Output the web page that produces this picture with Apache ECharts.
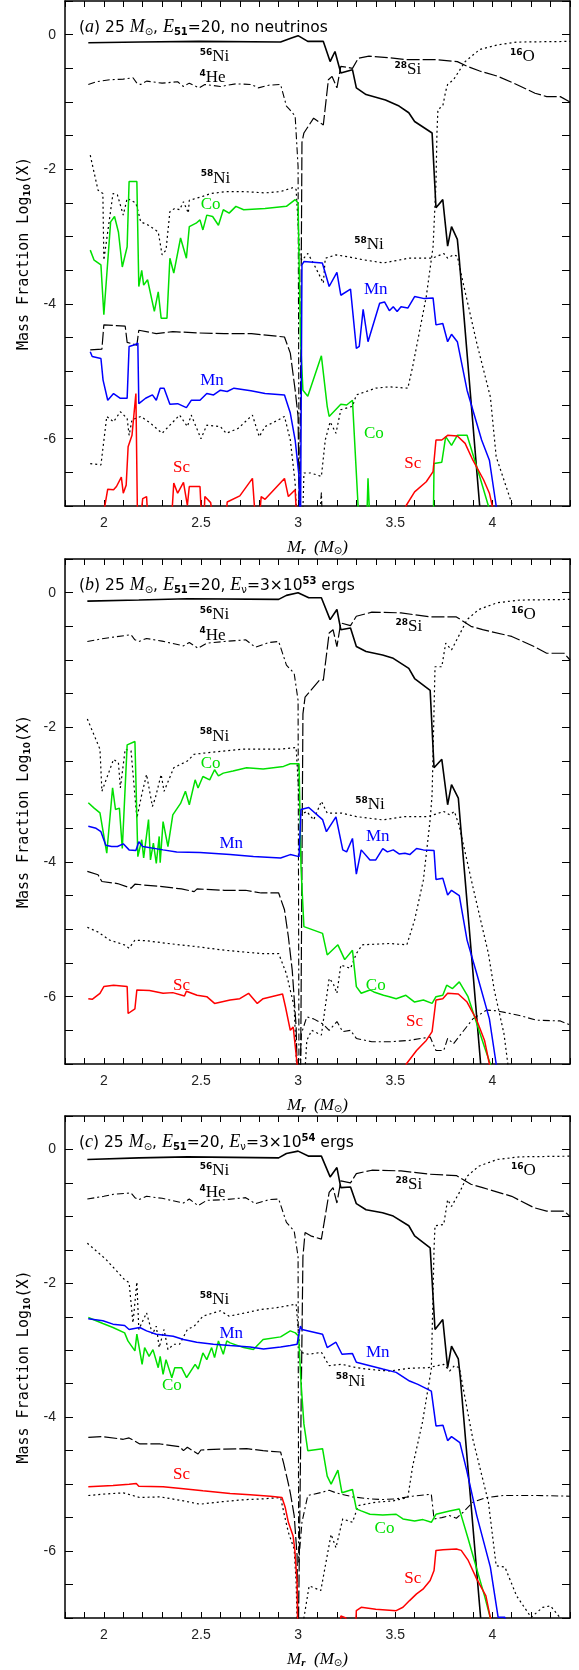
<!DOCTYPE html>
<html>
<head>
<meta charset="utf-8">
<script src="https://cdn.jsdelivr.net/npm/echarts@6/dist/echarts.min.js"></script>
<style>
  html, body { margin: 0; padding: 0; background: #fff; }
  .echarts { width: 579px; height: 1670px; }
</style>
</head>
<body>
<div class="echarts"></div>
<script>
// ---- panel (a): no neutrinos ----
const a56Ni = [[1.92,-0.12],[2.19,-0.11],[2.49,-0.10],[2.91,-0.11],[2.966,-0.05],[3.0,-0.015],[3.05,-0.10],[3.13,-0.10],[3.165,-0.40],[3.19,-0.25],[3.22,-0.57],[3.28,-0.52],[3.30,-0.79],[3.35,-0.89],[3.45,-0.97],[3.52,-1.06],[3.57,-1.16],[3.60,-1.29],[3.69,-1.46],[3.71,-2.57],[3.745,-2.45],[3.77,-3.14],[3.79,-2.85],[3.82,-3.04],[3.83,-3.34],[3.935,-7.0]];
const a4He = [[1.92,-0.74],[1.96,-0.70],[2.03,-0.67],[2.10,-0.66],[2.15,-0.64],[2.17,-0.72],[2.19,-0.74],[2.22,-0.69],[2.30,-0.72],[2.38,-0.70],[2.41,-0.77],[2.44,-0.72],[2.49,-0.79],[2.52,-0.74],[2.60,-0.77],[2.68,-0.73],[2.76,-0.74],[2.795,-0.79],[2.85,-0.75],[2.91,-0.74],[2.94,-1.06],[2.956,-1.11],[2.985,-1.21],[3.0,-1.96],[3.006,-7.6],[3.10,-7.6],[3.12,-6.8],[3.13,-7.6]];
const a28Si = [[1.93,-4.68],[1.99,-4.67],[2.0,-4.31],[2.11,-4.33],[2.12,-4.57],[2.17,-4.61],[2.18,-4.39],[2.27,-4.44],[2.355,-4.41],[2.48,-4.43],[2.62,-4.44],[2.76,-4.44],[2.93,-4.49],[2.96,-4.73],[2.985,-5.28],[3.0,-5.67],[3.008,-7.6],[3.014,-7.6],[3.02,-1.6],[3.03,-1.46],[3.08,-1.24],[3.13,-1.34],[3.156,-0.67],[3.175,-0.62],[3.20,-0.79],[3.22,-0.47],[3.28,-0.50],[3.31,-0.35],[3.365,-0.32],[3.46,-0.34],[3.555,-0.37],[3.71,-0.37],[3.82,-0.40],[3.87,-0.47],[3.935,-0.54],[4.03,-0.62],[4.125,-0.74],[4.22,-0.87],[4.28,-0.92],[4.35,-0.92],[4.40,-1.0]];
const a16O = [[1.93,-6.37],[1.985,-6.39],[2.015,-5.67],[2.05,-5.75],[2.085,-5.60],[2.12,-5.70],[2.13,-5.95],[2.145,-5.72],[2.19,-5.67],[2.24,-5.77],[2.30,-5.92],[2.34,-5.80],[2.39,-5.65],[2.43,-5.82],[2.45,-5.65],[2.50,-6.0],[2.53,-5.80],[2.60,-5.82],[2.63,-5.92],[2.69,-5.85],[2.765,-5.65],[2.80,-5.97],[2.83,-5.82],[2.90,-5.72],[2.93,-5.67],[2.96,-6.02],[2.985,-6.66],[3.0,-7.6],[3.02,-7.6],[3.03,-6.51],[3.065,-6.51],[3.12,-6.56],[3.14,-6.02],[3.165,-5.75],[3.195,-5.92],[3.22,-5.57],[3.28,-5.52],[3.30,-5.35],[3.40,-5.25],[3.47,-5.23],[3.565,-5.25],[3.59,-4.93],[3.66,-3.89],[3.695,-3.15],[3.71,-2.21],[3.715,-1.46],[3.72,-1.11],[3.745,-1.06],[3.76,-0.84],[3.77,-0.74],[3.80,-0.67],[3.86,-0.40],[3.935,-0.22],[4.03,-0.15],[4.125,-0.11],[4.40,-0.10]];
const a58Ni = [[1.93,-1.79],[1.97,-2.31],[1.995,-2.36],[2.0,-3.35],[2.047,-2.36],[2.07,-2.38],[2.10,-2.68],[2.12,-2.43],[2.165,-2.50],[2.19,-2.78],[2.23,-2.83],[2.28,-2.93],[2.29,-3.10],[2.30,-3.27],[2.32,-3.20],[2.34,-2.63],[2.365,-2.58],[2.39,-2.60],[2.41,-2.48],[2.435,-2.65],[2.44,-2.46],[2.50,-2.41],[2.55,-2.36],[2.63,-2.33],[2.72,-2.33],[2.83,-2.35],[2.91,-2.33],[2.975,-2.27],[2.99,-2.30],[3.01,-3.30],[3.02,-3.35],[3.05,-3.25],[3.08,-3.40],[3.13,-3.69],[3.14,-3.32],[3.195,-3.27],[3.26,-3.30],[3.33,-3.34],[3.44,-3.39],[3.57,-3.32],[3.69,-3.32],[3.75,-3.25],[3.77,-3.32],[3.80,-3.27],[3.82,-3.29],[3.85,-3.69],[3.92,-4.58],[3.99,-5.38],[4.02,-6.27],[4.10,-6.96],[4.11,-7.6]];
const aCo = [[1.93,-3.20],[1.95,-3.35],[1.985,-3.42],[2.0,-4.16],[2.035,-2.78],[2.055,-2.70],[2.075,-2.93],[2.095,-3.45],[2.12,-3.15],[2.13,-2.18],[2.17,-2.18],[2.18,-3.74],[2.195,-3.50],[2.205,-3.72],[2.225,-3.64],[2.26,-4.11],[2.28,-3.82],[2.295,-4.21],[2.325,-4.21],[2.34,-3.32],[2.36,-3.54],[2.395,-3.02],[2.425,-3.32],[2.44,-2.85],[2.475,-2.80],[2.495,-2.75],[2.51,-2.90],[2.53,-2.68],[2.56,-2.70],[2.59,-2.83],[2.615,-2.60],[2.645,-2.65],[2.68,-2.55],[2.72,-2.60],[2.83,-2.58],[2.94,-2.55],[2.985,-2.45],[3.0,-2.50],[3.012,-4.49],[3.025,-5.28],[3.05,-5.37],[3.12,-4.77],[3.15,-5.52],[3.16,-5.67],[3.22,-5.49],[3.25,-5.50],[3.28,-5.43],[3.32,-7.6],[3.35,-7.6],[3.36,-6.59],[3.375,-7.6],[3.695,-7.6],[3.70,-6.37],[3.74,-6.35],[3.76,-5.97],[3.79,-6.1],[3.82,-5.95],[3.87,-5.95],[3.94,-6.61],[3.98,-7.0],[3.99,-7.6]];
const aMn = [[1.93,-4.71],[1.94,-4.78],[1.985,-4.81],[1.996,-5.13],[2.02,-5.43],[2.05,-5.33],[2.085,-5.40],[2.12,-5.40],[2.13,-4.63],[2.155,-4.61],[2.175,-4.58],[2.18,-5.48],[2.215,-5.40],[2.25,-5.35],[2.27,-5.43],[2.29,-5.25],[2.31,-5.25],[2.34,-5.49],[2.38,-5.48],[2.425,-5.54],[2.45,-5.43],[2.495,-5.43],[2.53,-5.33],[2.565,-5.35],[2.60,-5.28],[2.635,-5.30],[2.67,-5.25],[2.757,-5.29],[2.83,-5.33],[2.93,-5.35],[2.96,-5.62],[2.985,-6.02],[3.005,-6.56],[3.012,-7.6],[3.018,-7.6],[3.02,-3.42],[3.03,-3.37],[3.125,-3.39],[3.16,-3.74],[3.20,-3.53],[3.22,-3.87],[3.27,-3.78],[3.30,-4.66],[3.315,-4.63],[3.335,-4.08],[3.36,-4.56],[3.42,-3.99],[3.445,-3.97],[3.47,-4.10],[3.49,-4.04],[3.51,-4.11],[3.53,-4.04],[3.565,-4.06],[3.60,-3.89],[3.65,-3.92],[3.695,-3.91],[3.71,-4.31],[3.745,-4.29],[3.77,-4.56],[3.79,-4.45],[3.82,-4.56],[3.87,-5.28],[3.945,-6.02],[3.985,-6.32],[4.02,-7.0],[4.03,-7.6]];
const aSc = [[2.0,-7.6],[2.005,-7.0],[2.02,-6.75],[2.05,-6.76],[2.065,-6.71],[2.09,-6.57],[2.10,-6.81],[2.115,-6.69],[2.125,-6.12],[2.145,-5.95],[2.165,-5.33],[2.175,-7.6],[2.20,-6.89],[2.22,-6.86],[2.235,-7.6],[2.34,-7.6],[2.36,-6.66],[2.38,-6.81],[2.41,-6.65],[2.43,-6.99],[2.44,-6.71],[2.495,-6.71],[2.51,-7.6],[2.52,-6.86],[2.55,-6.95],[2.58,-7.6],[2.62,-7.6],[2.635,-6.94],[2.70,-6.85],[2.765,-6.59],[2.79,-7.6],[2.81,-6.86],[2.83,-6.90],[2.93,-6.59],[2.95,-6.86],[2.985,-6.76],[3.0,-7.6],[3.55,-7.6],[3.555,-7.0],[3.60,-6.79],[3.66,-6.64],[3.695,-6.49],[3.71,-6.02],[3.74,-6.02],[3.77,-5.95],[3.82,-5.96],[3.86,-6.07],[3.90,-6.32],[3.955,-6.61],[3.985,-6.81],[4.0,-7.0],[4.01,-7.6]];

// ---- panel (b): E_nu = 3e53 erg ----
const b56Ni = [[1.915,-0.125],[2.18,-0.11],[2.43,-0.09],[2.90,-0.10],[2.94,-0.04],[3.0,0],[3.055,-0.075],[3.12,-0.075],[3.165,-0.40],[3.20,-0.25],[3.22,-0.55],[3.27,-0.525],[3.30,-0.80],[3.35,-0.875],[3.435,-0.925],[3.49,-0.975],[3.57,-1.125],[3.60,-1.275],[3.68,-1.45],[3.70,-2.6],[3.74,-2.475],[3.77,-3.15],[3.79,-2.85],[3.825,-3.05],[3.835,-3.4],[3.94,-7.0]];
const b4He = [[1.915,-0.725],[2.0,-0.68],[2.05,-0.66],[2.14,-0.625],[2.16,-0.70],[2.18,-0.725],[2.22,-0.68],[2.30,-0.72],[2.41,-0.79],[2.44,-0.74],[2.485,-0.825],[2.53,-0.75],[2.62,-0.725],[2.73,-0.70],[2.78,-0.81],[2.85,-0.74],[2.90,-0.725],[2.94,-1.075],[2.98,-1.20],[3.0,-1.6],[3.005,-7.6],[3.012,-7.6],[3.017,-6.55],[3.045,-6.30],[3.08,-6.33],[3.13,-6.41],[3.16,-6.50],[3.20,-6.37],[3.23,-6.52],[3.27,-6.50],[3.30,-6.62],[3.38,-6.67],[3.47,-6.67],[3.57,-6.65],[3.68,-6.60],[3.71,-6.80],[3.75,-6.80],[3.77,-6.62],[3.80,-6.70],[3.84,-6.55],[3.90,-6.33],[3.97,-6.20],[4.025,-6.21],[4.14,-6.28],[4.23,-6.35],[4.35,-6.36],[4.40,-6.42]];
const b28Si = [[1.915,-4.14],[1.97,-4.19],[1.99,-4.29],[2.07,-4.32],[2.14,-4.39],[2.16,-4.33],[2.20,-4.34],[2.28,-4.36],[2.40,-4.40],[2.465,-4.44],[2.48,-4.40],[2.62,-4.42],[2.73,-4.42],[2.81,-4.46],[2.90,-4.46],[2.93,-4.71],[2.95,-5.11],[2.97,-5.61],[2.99,-6.45],[3.0,-7.6],[3.012,-7.6],[3.025,-1.8],[3.036,-1.55],[3.11,-1.30],[3.13,-1.30],[3.16,-0.60],[3.18,-0.55],[3.20,-0.80],[3.22,-0.45],[3.27,-0.49],[3.30,-0.35],[3.38,-0.29],[3.53,-0.30],[3.68,-0.36],[3.815,-0.36],[3.89,-0.50],[3.95,-0.55],[4.10,-0.65],[4.215,-0.80],[4.28,-0.90],[4.37,-0.90],[4.40,-1.0]];
const b16O = [[1.915,-4.97],[1.97,-5.04],[2.03,-5.16],[2.105,-5.23],[2.13,-5.28],[2.16,-5.16],[2.22,-5.17],[2.33,-5.21],[2.485,-5.26],[2.62,-5.31],[2.81,-5.36],[2.90,-5.36],[2.94,-5.66],[2.98,-6.15],[3.0,-7.6],[3.025,-7.6],[3.045,-6.65],[3.07,-6.50],[3.12,-6.57],[3.16,-5.73],[3.18,-5.80],[3.20,-5.95],[3.22,-5.53],[3.27,-5.58],[3.30,-5.36],[3.33,-5.23],[3.47,-5.21],[3.56,-5.23],[3.60,-4.86],[3.645,-4.27],[3.68,-3.37],[3.69,-3.0],[3.705,-1.1],[3.74,-1.10],[3.76,-0.75],[3.79,-0.85],[3.835,-0.60],[3.87,-0.40],[3.93,-0.25],[4.025,-0.15],[4.14,-0.11],[4.40,-0.10]];
const b58Ni = [[1.915,-1.875],[1.98,-2.325],[1.99,-2.95],[2.0,-2.95],[2.05,-2.475],[2.075,-2.525],[2.085,-2.90],[2.11,-2.325],[2.14,-2.35],[2.17,-3.35],[2.195,-3.0],[2.22,-2.70],[2.25,-3.175],[2.265,-3.05],[2.295,-2.70],[2.31,-2.95],[2.36,-2.60],[2.43,-2.50],[2.465,-2.40],[2.54,-2.375],[2.71,-2.325],[2.90,-2.325],[2.99,-2.30],[3.01,-3.30],[3.045,-3.25],[3.08,-3.375],[3.12,-3.10],[3.15,-3.275],[3.225,-3.275],[3.30,-3.325],[3.435,-3.375],[3.55,-3.325],[3.67,-3.325],[3.75,-3.25],[3.78,-3.30],[3.805,-3.25],[3.83,-3.47],[3.90,-4.37],[3.98,-5.36],[4.01,-5.90],[4.06,-6.55],[4.08,-7.0],[4.09,-7.6]];
const bCo = [[1.92,-3.12],[1.95,-3.20],[1.98,-3.27],[2.015,-3.87],[2.045,-2.90],[2.06,-3.22],[2.08,-3.20],[2.095,-3.80],[2.12,-2.26],[2.16,-2.21],[2.175,-3.92],[2.195,-3.67],[2.205,-3.94],[2.23,-3.37],[2.24,-3.97],[2.255,-3.72],[2.27,-4.02],[2.285,-3.62],[2.29,-4.01],[2.305,-3.40],[2.33,-3.77],[2.355,-3.30],[2.395,-3.13],[2.42,-2.95],[2.44,-3.15],[2.47,-2.78],[2.485,-2.90],[2.51,-2.73],[2.545,-2.78],[2.57,-2.63],[2.59,-2.72],[2.615,-2.68],[2.665,-2.65],[2.735,-2.60],[2.82,-2.62],[2.925,-2.58],[2.96,-2.54],[3.005,-2.54],[3.015,-4.07],[3.03,-4.96],[3.126,-5.06],[3.15,-5.38],[3.205,-5.23],[3.24,-5.45],[3.28,-5.31],[3.30,-5.85],[3.325,-5.95],[3.37,-5.90],[3.39,-5.93],[3.44,-5.98],[3.47,-6.0],[3.505,-6.03],[3.555,-5.98],[3.60,-6.08],[3.645,-6.05],[3.69,-6.10],[3.71,-6.0],[3.745,-5.98],[3.765,-5.83],[3.795,-5.88],[3.83,-5.78],[3.875,-6.0],[3.92,-6.40],[3.96,-6.75],[3.99,-7.0],[4.0,-7.6]];
const bMn = [[1.92,-3.47],[1.96,-3.50],[1.985,-3.55],[2.01,-3.75],[2.04,-3.77],[2.07,-3.77],[2.10,-3.73],[2.13,-3.82],[2.165,-3.83],[2.18,-3.70],[2.20,-3.77],[2.305,-3.82],[2.375,-3.85],[2.495,-3.86],[2.65,-3.89],[2.77,-3.92],[2.91,-3.94],[2.96,-3.89],[3.005,-3.92],[3.015,-3.22],[3.055,-3.19],[3.126,-3.37],[3.146,-3.55],[3.195,-3.33],[3.23,-3.82],[3.25,-3.85],[3.28,-3.65],[3.30,-4.18],[3.325,-3.82],[3.37,-3.97],[3.40,-3.97],[3.436,-3.80],[3.46,-3.85],[3.49,-3.82],[3.52,-3.88],[3.55,-3.87],[3.575,-3.89],[3.61,-3.80],[3.645,-3.82],[3.70,-3.83],[3.71,-4.26],[3.745,-4.24],[3.77,-4.49],[3.79,-4.42],[3.83,-4.50],[3.87,-5.16],[3.92,-5.66],[3.985,-6.33],[4.02,-7.0],[4.03,-7.6]];
const bSc = [[1.92,-6.03],[1.94,-6.04],[1.98,-5.95],[2.0,-5.85],[2.05,-5.83],[2.12,-5.85],[2.125,-6.25],[2.16,-6.18],[2.17,-5.90],[2.235,-5.91],[2.305,-5.95],[2.355,-5.94],[2.415,-5.99],[2.425,-5.92],[2.48,-5.98],[2.53,-6.0],[2.57,-6.10],[2.65,-6.05],[2.70,-6.03],[2.745,-5.95],[2.79,-6.10],[2.82,-6.03],[2.92,-5.96],[2.935,-6.15],[2.96,-6.50],[2.975,-6.45],[2.995,-7.0],[3.0,-7.6],[3.55,-7.6],[3.557,-7.0],[3.61,-6.80],[3.66,-6.65],[3.69,-6.52],[3.71,-6.05],[3.745,-6.03],[3.77,-5.95],[3.825,-5.96],[3.87,-6.08],[3.92,-6.35],[3.96,-6.65],[3.985,-7.0],[3.99,-7.6]];

// ---- panel (c): E_nu = 3e54 erg ----
const c56Ni = [[1.915,-0.15],[2.18,-0.125],[2.43,-0.11],[2.90,-0.125],[2.94,-0.06],[3.0,-0.025],[3.055,-0.10],[3.12,-0.10],[3.165,-0.41],[3.20,-0.27],[3.22,-0.57],[3.27,-0.56],[3.30,-0.81],[3.35,-0.90],[3.435,-0.945],[3.49,-0.995],[3.57,-1.14],[3.60,-1.29],[3.68,-1.47],[3.705,-2.69],[3.745,-2.54],[3.77,-3.26],[3.79,-2.94],[3.825,-3.13],[3.835,-3.4],[3.94,-7.0]];
const c4He = [[1.915,-0.74],[2.0,-0.70],[2.05,-0.67],[2.14,-0.65],[2.16,-0.72],[2.18,-0.75],[2.22,-0.70],[2.30,-0.73],[2.41,-0.80],[2.44,-0.74],[2.485,-0.84],[2.53,-0.76],[2.62,-0.75],[2.73,-0.72],[2.78,-0.81],[2.85,-0.75],[2.90,-0.74],[2.94,-1.09],[2.98,-1.22],[3.0,-1.6],[3.003,-6.17],[3.02,-5.57],[3.05,-5.17],[3.126,-5.12],[3.16,-5.09],[3.195,-5.13],[3.28,-5.19],[3.37,-5.22],[3.436,-5.23],[3.505,-5.22],[3.59,-5.18],[3.686,-5.15],[3.70,-5.52],[3.74,-5.50],[3.78,-5.47],[3.815,-5.51],[3.85,-5.42],[3.90,-5.27],[3.97,-5.20],[4.057,-5.17],[4.23,-5.17],[4.40,-5.18]];
const c28Si = [[1.92,-4.30],[1.995,-4.29],[2.10,-4.33],[2.13,-4.31],[2.185,-4.40],[2.29,-4.40],[2.39,-4.44],[2.41,-4.50],[2.43,-4.45],[2.485,-4.55],[2.50,-4.49],[2.565,-4.48],[2.735,-4.47],[2.82,-4.50],[2.91,-4.52],[2.925,-4.68],[2.945,-4.93],[2.96,-5.13],[2.98,-5.47],[2.995,-6.07],[3.0,-7.6],[3.01,-7.6],[3.025,-1.6],[3.036,-1.24],[3.065,-1.29],[3.12,-1.34],[3.16,-0.64],[3.18,-0.57],[3.20,-0.80],[3.22,-0.47],[3.27,-0.50],[3.30,-0.36],[3.38,-0.31],[3.53,-0.32],[3.68,-0.37],[3.815,-0.39],[3.89,-0.52],[3.95,-0.57],[4.10,-0.70],[4.215,-0.87],[4.28,-0.92],[4.37,-0.92],[4.40,-1.0]];
const c16O = [[1.92,-5.17],[1.995,-5.15],[2.10,-5.13],[2.185,-5.20],[2.29,-5.19],[2.41,-5.25],[2.495,-5.30],[2.615,-5.26],[2.735,-5.23],[2.82,-5.22],[2.91,-5.20],[2.93,-5.47],[2.95,-5.72],[2.98,-5.97],[2.99,-6.47],[3.0,-7.6],[3.02,-7.6],[3.03,-7.0],[3.057,-6.52],[3.117,-6.59],[3.17,-5.75],[3.195,-5.95],[3.23,-5.52],[3.28,-5.57],[3.31,-5.32],[3.40,-5.27],[3.49,-5.25],[3.565,-5.20],[3.59,-4.73],[3.64,-4.08],[3.686,-3.28],[3.70,-1.49],[3.705,-1.14],[3.75,-1.12],[3.77,-0.75],[3.79,-0.85],[3.835,-0.62],[3.87,-0.40],[3.93,-0.25],[4.025,-0.15],[4.14,-0.11],[4.40,-0.10]];
const c58Ni = [[1.915,-1.40],[2.01,-1.64],[2.105,-1.94],[2.13,-1.99],[2.15,-2.59],[2.17,-1.98],[2.18,-2.69],[2.22,-2.44],[2.25,-2.76],[2.27,-2.64],[2.285,-2.96],[2.31,-2.69],[2.33,-2.99],[2.36,-2.91],[2.39,-2.91],[2.43,-2.69],[2.465,-2.64],[2.51,-2.49],[2.60,-2.41],[2.645,-2.49],[2.73,-2.44],[2.81,-2.39],[2.90,-2.36],[2.99,-2.31],[3.01,-3.03],[3.055,-3.06],[3.12,-3.03],[3.16,-3.23],[3.225,-3.21],[3.30,-3.26],[3.38,-3.29],[3.47,-3.31],[3.57,-3.27],[3.67,-3.26],[3.75,-3.21],[3.78,-3.31],[3.805,-3.23],[3.83,-3.26],[3.90,-4.33],[3.98,-5.27],[4.02,-6.22],[4.065,-6.24],[4.125,-6.67],[4.20,-6.99],[4.26,-6.84],[4.30,-6.82],[4.35,-7.0],[4.36,-7.6]];
const cCo = [[1.92,-2.51],[1.995,-2.60],[2.047,-2.66],[2.107,-2.74],[2.124,-2.86],[2.16,-3.01],[2.17,-2.76],[2.197,-3.21],[2.21,-2.96],[2.233,-3.09],[2.253,-2.99],[2.28,-3.26],[2.29,-3.09],[2.305,-3.36],[2.32,-3.14],[2.35,-3.41],[2.365,-3.26],[2.40,-3.26],[2.426,-3.41],[2.47,-3.21],[2.486,-3.28],[2.51,-3.04],[2.53,-3.14],[2.555,-2.96],[2.57,-3.11],[2.59,-2.86],[2.615,-3.06],[2.633,-2.86],[2.65,-2.89],[2.72,-2.96],[2.77,-2.99],[2.82,-2.84],[2.91,-2.80],[2.96,-2.71],[2.986,-2.74],[3.003,-2.79],[3.015,-3.48],[3.03,-4.10],[3.05,-4.50],[3.126,-4.47],[3.15,-4.88],[3.17,-5.0],[3.205,-4.79],[3.226,-5.13],[3.28,-5.08],[3.30,-5.37],[3.325,-5.40],[3.37,-5.45],[3.436,-5.46],[3.505,-5.45],[3.54,-5.52],[3.60,-5.55],[3.643,-5.53],[3.686,-5.57],[3.71,-5.45],[3.78,-5.40],[3.83,-5.37],[3.876,-5.82],[3.92,-6.27],[3.96,-6.67],[3.99,-7.0],[4.0,-7.6]];
const cMn = [[1.92,-2.53],[1.995,-2.56],[2.047,-2.61],[2.107,-2.63],[2.13,-2.69],[2.185,-2.66],[2.22,-2.71],[2.27,-2.76],[2.357,-2.79],[2.41,-2.84],[2.478,-2.88],[2.564,-2.91],[2.65,-2.93],[2.753,-2.95],[2.822,-2.98],[2.91,-2.95],[2.96,-2.93],[2.995,-2.91],[3.012,-2.64],[3.02,-2.69],[3.126,-2.76],[3.15,-2.96],[3.195,-2.88],[3.226,-3.06],[3.28,-3.05],[3.30,-3.18],[3.37,-3.23],[3.436,-3.28],[3.505,-3.33],[3.574,-3.46],[3.617,-3.51],[3.686,-3.61],[3.71,-4.13],[3.746,-4.12],[3.77,-4.35],[3.79,-4.29],[3.833,-4.38],[3.867,-4.78],[3.92,-5.47],[3.99,-6.24],[4.03,-6.99],[4.065,-6.99],[4.07,-7.6]];
const cSc = [[1.92,-5.04],[2.047,-5.02],[2.13,-5.0],[2.167,-4.99],[2.18,-5.03],[2.305,-5.04],[2.41,-5.07],[2.51,-5.10],[2.65,-5.14],[2.753,-5.16],[2.857,-5.18],[2.917,-5.20],[2.934,-5.35],[2.95,-5.57],[2.974,-5.77],[2.983,-5.97],[2.995,-6.47],[3.0,-7.6],[3.215,-7.6],[3.22,-6.97],[3.246,-7.0],[3.27,-7.6],[3.29,-7.6],[3.30,-6.89],[3.325,-6.84],[3.40,-6.87],[3.505,-6.89],[3.54,-6.84],[3.574,-6.74],[3.61,-6.64],[3.643,-6.57],[3.68,-6.44],[3.70,-6.29],[3.71,-5.99],[3.746,-5.98],[3.815,-5.97],[3.84,-5.99],[3.876,-6.14],[3.92,-6.42],[3.967,-6.67],[3.99,-7.0],[4.0,-7.6]];

// in-plot species labels: [x, y, species]
const labelsA = [[2.57,-0.33,'Ni56'],[2.56,-0.64,'He4'],[3.565,-0.52,'Si28'],[4.155,-0.32,'O16'],[2.575,-2.13,'Ni58'],[2.55,-2.52,'Co'],[3.365,-3.12,'Ni58'],[3.40,-3.79,'Mn'],[2.557,-5.13,'Mn'],[3.39,-5.93,'Co'],[2.40,-6.43,'Sc'],[3.59,-6.37,'Sc']];
const labelsB = [[2.57,-0.33,'Ni56'],[2.56,-0.63,'He4'],[3.57,-0.51,'Si28'],[4.16,-0.33,'O16'],[2.57,-2.13,'Ni58'],[2.55,-2.54,'Co'],[3.37,-3.15,'Ni58'],[2.656,-3.72,'Mn'],[3.41,-3.62,'Mn'],[2.40,-5.83,'Sc'],[3.40,-5.83,'Co'],[3.60,-6.37,'Sc']];
const labelsC = [[2.57,-0.32,'Ni56'],[2.56,-0.64,'He4'],[3.57,-0.52,'Si28'],[4.16,-0.32,'O16'],[2.57,-2.24,'Ni58'],[2.656,-2.75,'Mn'],[3.41,-3.04,'Mn'],[3.27,-3.46,'Ni58'],[2.35,-3.53,'Co'],[2.40,-4.85,'Sc'],[3.445,-5.66,'Co'],[3.59,-6.41,'Sc']];

const panelTitles = [
    '{p|(}{i|a}{p|) 25 }{i|M}{o|\u2299}{p|, }{i|E}{b|51}{p|=20, no neutrinos}',
    '{p|(}{i|b}{p|) 25 }{i|M}{o|\u2299}{p|, }{i|E}{b|51}{p|=20, }{i|E}{o|\u03bd}{p|=3\u00d710}{u|53}{p| ergs}',
    '{p|(}{i|c}{p|) 25 }{i|M}{o|\u2299}{p|, }{i|E}{b|51}{p|=20, }{i|E}{o|\u03bd}{p|=3\u00d710}{u|54}{p| ergs}'
];

window.addEventListener('load', function () {
    let myChart = echarts.init(document.querySelector('.echarts'));

    const panels = [
        {Ni56: a56Ni, He4: a4He, Si28: a28Si, O16: a16O, Ni58: a58Ni, Co: aCo, Mn: aMn, Sc: aSc, labels: labelsA},
        {Ni56: b56Ni, He4: b4He, Si28: b28Si, O16: b16O, Ni58: b58Ni, Co: bCo, Mn: bMn, Sc: bSc, labels: labelsB},
        {Ni56: c56Ni, He4: c4He, Si28: c28Si, O16: c16O, Ni58: c58Ni, Co: cCo, Mn: cMn, Sc: cSc, labels: labelsC}
    ];
    const gridTops = [1, 559, 1116];
    const plotH = 505;

    const lineStyles = {
        Ni56: {color: '#000', width: 1.6, type: 'solid'},
        He4:  {color: '#000', width: 1.1, type: [7, 3, 2, 3]},
        Si28: {color: '#000', width: 1.2, type: [13, 3]},
        O16:  {color: '#000', width: 1.2, type: [2, 3]},
        Ni58: {color: '#000', width: 1.2, type: [2, 3]},
        Co:   {color: '#00e000', width: 1.5, type: 'solid'},
        Mn:   {color: '#0000ff', width: 1.5, type: 'solid'},
        Sc:   {color: '#ff0000', width: 1.5, type: 'solid'}
    };
    // rich-text label per species
    const labelText = {
        Ni56: '{m|56}{k|Ni}', He4: '{m|4}{k|He}', Si28: '{m|28}{k|Si}', O16: '{m|16}{k|O}', Ni58: '{m|58}{k|Ni}',
        Co: '{g|Co}', Mn: '{b|Mn}', Sc: '{r|Sc}'
    };
    const serif = {fontFamily: 'Liberation Serif', fontSize: 17, fontWeight: 'normal'};
    const labelRich = {
        m: {fontFamily: 'DejaVu Sans', fontWeight: 'bold', fontSize: 9, color: '#000', verticalAlign: 'top', padding: [0, 0, 6, 0]},
        k: Object.assign({color: '#000'}, serif),
        g: Object.assign({color: '#00e000'}, serif),
        b: Object.assign({color: '#0000ff'}, serif),
        r: Object.assign({color: '#ff0000'}, serif)
    };

    const grids = [], xAxes = [], yAxes = [], series = [], titles = [];
    const axisLine = {onZero: false, lineStyle: {color: '#000', width: 1.5}};

    panels.forEach(function (p, g) {
        grids.push({left: 65, right: 9, top: gridTops[g], height: plotH});
        xAxes.push({
            type: 'value', gridIndex: g, min: 1.8, max: 4.4, interval: 0.1, position: 'bottom',
            axisLine: axisLine,
            axisTick: {inside: true, length: 6, lineStyle: {color: '#000', width: 1}},
            splitLine: {show: false},
            axisLabel: {
                margin: 10, color: '#222', fontFamily: 'Liberation Sans', fontSize: 14,
                formatter: function (v) {
                    const t = Math.round(v * 10);
                    return (t % 5 === 0 && t >= 20 && t <= 40) ? String(t / 10) : '';
                }
            },
            name: '{i|M}{s|r}{n|  (}{i|M}{o|\u2299}{n|)}', nameLocation: 'middle', nameGap: 32,
            nameTextStyle: {rich: {
                i: {fontFamily: 'Liberation Serif', fontStyle: 'italic', fontSize: 17, color: '#000'},
                s: {fontFamily: 'Liberation Serif', fontStyle: 'italic', fontWeight: 'bold', fontSize: 11, color: '#000', padding: [8, 0, 0, 0]},
                n: {fontFamily: 'Liberation Serif', fontStyle: 'italic', fontSize: 17, color: '#000'},
                o: {fontFamily: 'DejaVu Sans', fontSize: 10, color: '#000', padding: [8, 0, 0, 0]}
            }}
        });
        xAxes.push({
            type: 'value', gridIndex: g, min: 1.8, max: 4.4, interval: 0.1, position: 'top',
            axisLine: axisLine,
            axisTick: {inside: true, length: 6, lineStyle: {color: '#000', width: 1}},
            axisLabel: {show: false}, splitLine: {show: false}
        });
        yAxes.push({
            type: 'value', gridIndex: g, min: -7, max: 0.5, interval: 0.5, position: 'left',
            axisLine: axisLine,
            axisTick: {inside: true, length: 8, lineStyle: {color: '#000', width: 1}},
            splitLine: {show: false},
            axisLabel: {
                margin: 9, color: '#222', fontFamily: 'Liberation Sans', fontSize: 14,
                formatter: function (v) {
                    return (Math.abs(v % 2) < 1e-9 && v > -7) ? String(v) : '';
                }
            },
            name: '{n|Mass Fraction Log}{s|10}{n|(X)}', nameLocation: 'middle', nameGap: 30, nameRotate: 90,
            nameTextStyle: {rich: {
                n: {fontFamily: 'DejaVu Sans Mono', fontSize: 15, color: '#000'},
                s: {fontFamily: 'DejaVu Sans', fontWeight: 'bold', fontSize: 9, color: '#000', padding: [9, 0, 0, 0]}
            }}
        });
        yAxes.push({
            type: 'value', gridIndex: g, min: -7, max: 0.5, interval: 0.5, position: 'right',
            axisLine: axisLine,
            axisTick: {inside: true, length: 8, lineStyle: {color: '#000', width: 1}},
            axisLabel: {show: false}, splitLine: {show: false}
        });

        ['O16', 'Ni58', 'Si28', 'He4', 'Ni56', 'Co', 'Sc', 'Mn'].forEach(function (sp) {
            series.push({
                type: 'line', name: sp, xAxisIndex: 2 * g, yAxisIndex: 2 * g,
                data: p[sp], showSymbol: false, symbol: 'none', clip: true,
                lineStyle: lineStyles[sp], silent: true
            });
        });

        series.push({
            type: 'scatter', xAxisIndex: 2 * g, yAxisIndex: 2 * g, symbolSize: 0, silent: true, z: 5,
            itemStyle: {opacity: 1},
            data: p.labels.map(function (l) {
                return {value: [l[0], l[1]], label: {formatter: labelText[l[2]]}};
            }),
            label: {show: true, position: 'inside', color: '#000', opacity: 1, rich: labelRich}
        });

        titles.push({
            text: panelTitles[g], left: 74, top: gridTops[g] + 12,
            textStyle: {fontWeight: 'normal', rich: {
                p: {fontFamily: 'DejaVu Sans', fontWeight: 'normal', fontSize: 15.5, color: '#000'},
                i: {fontFamily: 'Liberation Serif', fontStyle: 'italic', fontWeight: 'normal', fontSize: 18, color: '#000'},
                o: {fontFamily: 'DejaVu Sans', fontWeight: 'normal', fontSize: 10, color: '#000', padding: [9, 0, 0, 0]},
                b: {fontFamily: 'DejaVu Sans', fontWeight: 'bold', fontSize: 10, color: '#000', padding: [9, 0, 0, 0]},
                u: {fontFamily: 'DejaVu Sans', fontWeight: 'bold', fontSize: 10, color: '#000', padding: [0, 0, 8, 0]}
            }}
        });
    });

    myChartOption = {
        animation: false,
        backgroundColor: '#fff',
        title: titles,
        grid: grids,
        xAxis: xAxes,
        yAxis: yAxes,
        series: series
    };
    myChart.setOption(myChartOption);
});
</script>
</body>
</html>
